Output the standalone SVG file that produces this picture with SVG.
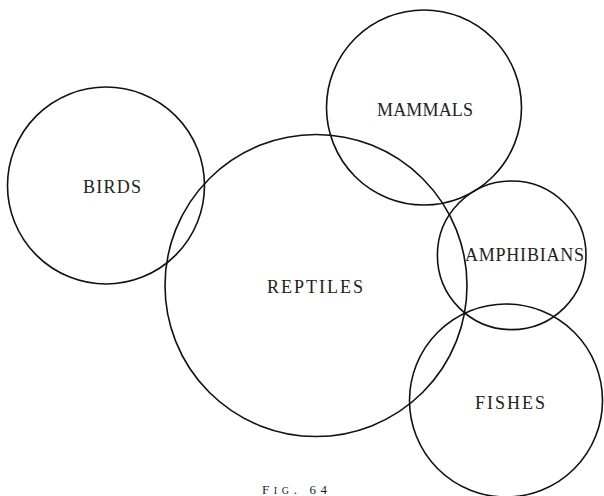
<svg xmlns="http://www.w3.org/2000/svg" width="604" height="496" viewBox="0 0 604 496">
<style>
.c{fill:none;stroke:#111;stroke-width:1.6}
.t{font-family:"Liberation Serif",serif;font-size:18px;fill:#222;text-anchor:start}
.cap{font-family:"Liberation Serif",serif;font-size:13px;fill:#222}
</style>
<rect width="604" height="496" fill="#fff"/>
<g id="birds">
<circle class="c" cx="106" cy="185.5" r="98.5"/>
<text class="t" x="83" y="193" textLength="58" lengthAdjust="spacing">BIRDS</text>
</g>
<g id="reptiles">
<circle class="c" cx="316" cy="285.5" r="151"/>
<text class="t" x="267" y="293" textLength="96" lengthAdjust="spacing">REPTILES</text>
</g>
<g id="mammals">
<circle class="c" cx="424" cy="107.5" r="97.5"/>
<text class="t" x="377" y="116" textLength="96" lengthAdjust="spacing">MAMMALS</text>
</g>
<g id="amphibians">
<circle class="c" cx="511.7" cy="255.3" r="74.3"/>
<text class="t" x="465" y="261" textLength="119" lengthAdjust="spacing">AMPHIBIANS</text>
</g>
<g id="fishes">
<circle class="c" cx="506" cy="400.5" r="96.5"/>
<text class="t" x="475" y="409" textLength="70" lengthAdjust="spacing">FISHES</text>
</g>
<g id="connectors"/>
<text class="cap" x="262" y="494" textLength="65" lengthAdjust="spacing">F<tspan font-size="10">IG</tspan>. 64</text>
</svg>
